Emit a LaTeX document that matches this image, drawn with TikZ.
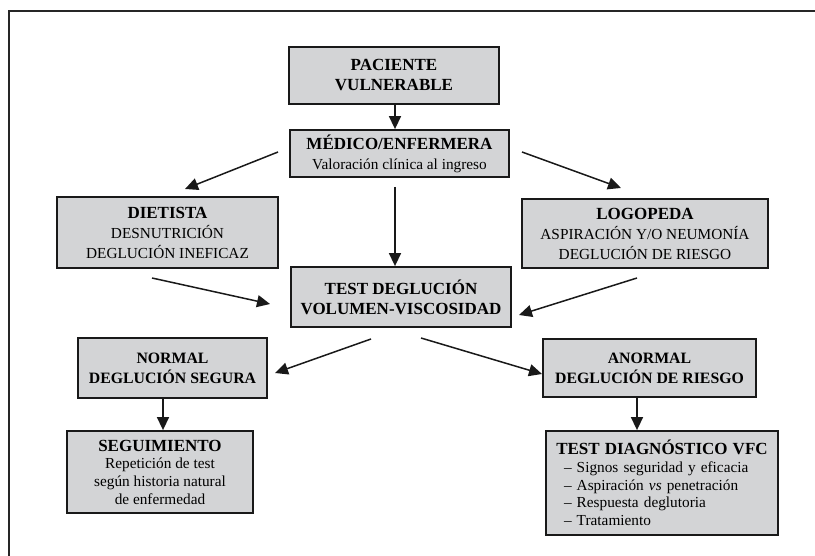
\documentclass[tikz,border=0pt]{standalone}
\usepackage{fontspec}
\setmainfont{Liberation Serif}
\usetikzlibrary{arrows.meta}
\definecolor{boxgray}{RGB}{211,212,214}
\newcommand{\hb}[1]{{\fontsize{17}{20}\selectfont\bfseries #1}}
\newcommand{\mb}[1]{{\fontsize{15.8}{20}\selectfont\bfseries #1}}
\begin{document}
\begin{tikzpicture}[x=1pt,y=-1pt,
  box/.style={draw=black!90, line width=1.8pt, fill=boxgray, inner sep=0pt,
    align=center, font=\fontsize{15.3}{20}\selectfont},
  tight/.style={font=\fontsize{15.3}{17.7}\selectfont},
  arr/.style={line width=1.5pt, draw=black!90, -{Triangle[length=13pt,width=12pt]}},
  frame/.style={line width=1.2pt, draw=black!85}]
\useasboundingbox (0,0) rectangle (815,556);
\coordinate (fbl) at (9,556);
\coordinate (ftl) at (9,11);
\coordinate (ftr) at (815,11);
\draw[frame] (fbl) -- (ftl) -- (ftr);

\node[box, minimum width=210pt, minimum height=57pt] (pac) at (394,75.5)
  {\hb{PACIENTE}\\\hb{VULNERABLE}};
\node[box, minimum width=219pt, minimum height=47pt] (med) at (399.5,153.5)
  {\hb{MÉDICO/ENFERMERA}\\Valoración clínica al ingreso};
\node[box, minimum width=221pt, minimum height=71pt] (die) at (167.5,232.5)
  {\hb{DIETISTA}\\DESNUTRICIÓN\\DEGLUCIÓN INEFICAZ};
\node[box, minimum width=246pt, minimum height=69pt] (log) at (645,233.5)
  {\hb{LOGOPEDA}\\ASPIRACIÓN Y/O NEUMONÍA\\DEGLUCIÓN DE RIESGO};
\node[box, minimum width=220pt, minimum height=60pt] (tvv) at (401,297)
  {\hb{TEST DEGLUCIÓN}\\\hb{VOLUMEN-VISCOSIDAD}};
\node[box, minimum width=189pt, minimum height=60pt] (nor) at (172.5,368)
  {\mb{NORMAL}\\\mb{DEGLUCIÓN SEGURA}};
\node[box, minimum width=213pt, minimum height=58pt] (ano) at (649.5,368)
  {\mb{ANORMAL}\\\mb{DEGLUCIÓN DE RIESGO}};
\node[box, tight, minimum width=186pt, minimum height=82pt] (seg) at (160,472)
  {\hb{SEGUIMIENTO}\\Repetición de test\\según historia natural\\de enfermedad};
\node[box, tight, text width=232pt, align=left, minimum height=104pt] (tdv) at (662,483)
  {\makebox[232pt]{\hb{TEST DIAGNÓSTICO VFC}}\\
   \hspace*{18pt}– Signos seguridad y eficacia\\
   \hspace*{18pt}– Aspiración \textit{vs} penetración\\
   \hspace*{18pt}– Respuesta deglutoria\\
   \hspace*{18pt}– Tratamiento};

% vertical connector x positions
\coordinate (xc) at (395,0);
\coordinate (xl) at (163,0);
\coordinate (xr) at (637,0);
\coordinate (c1s) at (395,187);
% diagonal connector ends
\coordinate (m1s) at (278,152);
\coordinate (m1e) at (185,189);
\coordinate (m2s) at (522,152);
\coordinate (m2e) at (621,188);
\coordinate (d1s) at (152,278);
\coordinate (d1e) at (270,304);
\coordinate (l1s) at (637,278);
\coordinate (l1e) at (519,315);
\coordinate (t1s) at (371,339);
\coordinate (t1e) at (275,373);
\coordinate (t2s) at (421,338);
\coordinate (t2e) at (542,374);

\draw[arr] (pac.south -| xc) -- (med.north -| xc);
\draw[arr] (m1s) -- (m1e);
\draw[arr] (m2s) -- (m2e);
\draw[arr] (c1s) -- (tvv.north -| xc);
\draw[arr] (d1s) -- (d1e);
\draw[arr] (l1s) -- (l1e);
\draw[arr] (t1s) -- (t1e);
\draw[arr] (t2s) -- (t2e);
\draw[arr] (nor.south -| xl) -- (seg.north -| xl);
\draw[arr] (ano.south -| xr) -- (tdv.north -| xr);
\end{tikzpicture}
\end{document}
